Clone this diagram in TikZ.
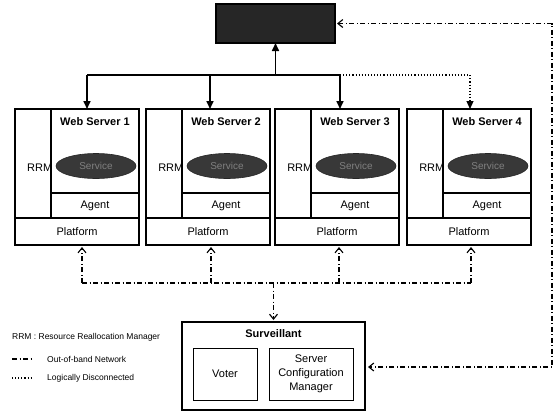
\documentclass[tikz,border=0pt]{standalone}
\usepackage{fontspec}
\setmainfont{Liberation Sans}
\usetikzlibrary{arrows.meta,shapes.geometric}
\tikzset{oobtip/.tip={Straight Barb[length=5pt,width=8pt,line width=1.1pt]}}
\begin{document}
\begin{tikzpicture}[x=1pt,y=-1pt,
  part/.style={draw=black,line width=1.2pt,inner sep=0pt,outer sep=0pt,anchor=north west},
  lbl/.style={font=\fontsize{11}{12}\selectfont,inner sep=0pt},
  ttl/.style={font=\fontsize{11}{12}\selectfont\bfseries,inner sep=0pt},
  svc/.style={ellipse,fill=black!78,draw=black!85,line width=0.6pt,minimum width=80pt,minimum height=25pt,inner sep=0pt,
    font=\fontsize{10}{11}\selectfont,text=black!50},
  solidarrow/.style={line width=1.6pt,-{Triangle[length=8pt,width=7pt]}},
  oob/.style={line width=1.1pt,dash pattern=on 5pt off 2.5pt on 1pt off 2.5pt},
  logic/.style={line width=1.1pt,dotted},
  leg/.style={font=\fontsize{8.5}{10}\selectfont,inner sep=0pt,anchor=west}]
\useasboundingbox (0,0) rectangle (560,413);

% top box
\node[part,fill=black!85,minimum width=119pt,minimum height=39pt] (top) at (216,4) {};

% web servers
\foreach \i/\L in {1/15,2/146,3/275,4/407}{
  \node[part,minimum width=36pt,minimum height=109pt] (rrm\i) at (\L,109) {};
  \node[part,minimum width=88pt,minimum height=84pt] (ws\i) at (\L+36,109) {};
  \node[part,minimum width=88pt,minimum height=25pt] (ag\i) at (\L+36,193) {};
  \node[part,minimum width=124pt,minimum height=27pt] (pl\i) at (\L,218) {};
  \node[ttl] (wt\i) at (\L+80,122) {Web Server \i};
  \node[svc] (sv\i) at (\L+81,166) {Service};
  \node[lbl,anchor=east] (rl\i) at (\L+37.5,168) {RRM};
  \node[lbl] (al\i) at (\L+80,206) {Agent};
  \node[lbl] (plb\i) at (\L+62,232) {Platform};
}

% upper network
\coordinate (b1) at (87,75);
\coordinate (b2) at (210,75);
\coordinate (b3) at (340,75);
\coordinate (b4) at (470,75);
\coordinate (bt) at (275.5,75);
\draw[line width=1.6pt] (b1) -- (b3);
\draw[solidarrow] (bt) -- (top.south);
\draw[solidarrow] (b1) -- (b1 |- ws1.north);
\draw[solidarrow] (b2) -- (b2 |- ws2.north);
\draw[solidarrow] (b3) -- (b3 |- ws3.north);
\draw[logic] (b3) -- (b4) -- ([yshift=8pt]b4 |- ws4.north);
\draw[line width=1.1pt,-{Triangle[length=8pt,width=7pt]}] ([yshift=9pt]b4 |- ws4.north) -- (b4 |- ws4.north);

% surveillant
\node[part,minimum width=183pt,minimum height=88pt] (surv) at (182,322) {};
\node[ttl] (st) at (273.5,334) {Surveillant};
\node[part,line width=1pt,minimum width=64pt,minimum height=52pt] (voter) at (193,348) {};
\node[lbl] (vl) at (voter.center) {Voter};
\node[part,line width=1pt,minimum width=84pt,minimum height=52pt] (scm) at (269,348) {};
\node[lbl,align=center,font=\fontsize{11}{14}\selectfont] (sl) at (scm.center) {Server\\Configuration\\Manager};

% out-of-band network (lower)
\coordinate (p1) at (82,283);
\coordinate (p2) at (211,283);
\coordinate (p3) at (339,283);
\coordinate (p4) at (471,283);
\coordinate (q) at (273.5,283);
\draw[oob] (p1) -- (p4);
\draw[oob,-oobtip] (p1) -- ([yshift=-2pt]p1 |- pl1.south);
\draw[oob,-oobtip] (p2) -- ([yshift=-2pt]p2 |- pl2.south);
\draw[oob,-oobtip] (p3) -- ([yshift=-2pt]p3 |- pl3.south);
\draw[oob,-oobtip] (p4) -- ([yshift=-2pt]p4 |- pl4.south);
\draw[oob,-oobtip] (q) -- ([yshift=2pt]surv.north);

% out-of-band network (right)
\coordinate (r1) at (552,23.5);
\coordinate (r2) at (552,367);
\draw[oob,oobtip-oobtip] ([xshift=2pt]top.east) -- (r1) -- (r2) -- ([xshift=3pt]r2 -| surv.east);

% legend
\node[leg] (lg1) at (12,337) {RRM : Resource Reallocation Manager};
\coordinate (l2a) at (12,359);
\coordinate (l2b) at (33,359);
\draw[oob] (l2a) -- (l2b);
\node[leg] (lg2) at (47,359) {Out-of-band Network};
\coordinate (l3a) at (12,378);
\coordinate (l3b) at (33,378);
\draw[logic] (l3a) -- (l3b);
\node[leg] (lg3) at (47,378) {Logically Disconnected};
\end{tikzpicture}
\end{document}
